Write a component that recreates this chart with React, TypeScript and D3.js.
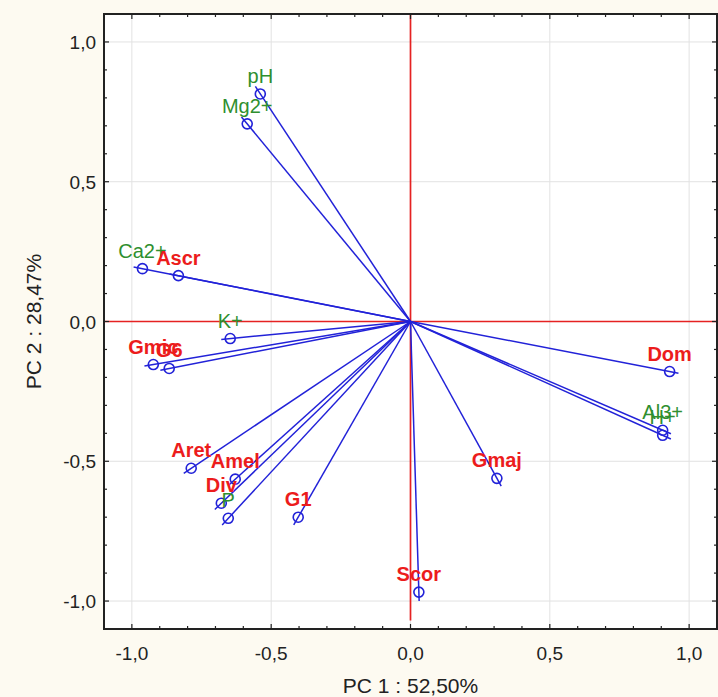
import React, { useEffect, useRef } from 'react';
import * as d3 from 'd3';

// PCA loadings
const variables = ['pH', 'Mg2+', 'Ca2+', 'Ascr', 'K+', 'Gmic', 'G6', 'Aret', 'Amel', 'Div', 'P', 'G1', 'Gmaj', 'Scor', 'Dom', 'Al3+', 'H+'];
const pc1 = [-0.539, -0.586, -0.962, -0.833, -0.647, -0.923, -0.866, -0.787, -0.629, -0.679, -0.654, -0.403, 0.31, 0.03, 0.93, 0.905, 0.905];
const pc2 = [0.814, 0.707, 0.189, 0.164, -0.061, -0.154, -0.168, -0.525, -0.564, -0.65, -0.704, -0.7, -0.561, -0.968, -0.179, -0.389, -0.407];
// 'env' = green labels, 'bio' = red labels
const groups = ['env', 'env', 'env', 'bio', 'env', 'bio', 'bio', 'bio', 'bio', 'bio', 'env', 'bio', 'bio', 'bio', 'bio', 'env', 'env'];

const majorTicks = [-1, -0.5, 0, 0.5, 1];
const xTitle = 'PC 1 : 52,50%';
const yTitle = 'PC 2 : 28,47%';

const App = () => {
  const ref = useRef<SVGSVGElement>(null);

  useEffect(() => {
    document.body.style.margin = '0';
    const svg = d3.select(ref.current);
    svg.selectAll('*').remove();

    const width = 718;
    const height = 697;
    const margin = { top: 14, right: 1, bottom: 68, left: 104 };
    const font = '"Liberation Sans", Arial, sans-serif';

    const x = d3.scaleLinear().domain([-1.1, 1.1]).range([margin.left, width - margin.right]);
    const y = d3.scaleLinear().domain([-1.1, 1.1]).range([height - margin.bottom, margin.top]);

    const fmt = (v: number) => d3.format('.1f')(v).replace('.', ',').replace('−', '-');
    const minorTicks = d3.range(-11, 12).map(i => i / 10);

    // Background
    svg.append('rect').attr('width', width).attr('height', height).attr('fill', '#fdfaf1');
    svg.append('rect')
      .attr('x', x(-1.1)).attr('y', y(1.1))
      .attr('width', x(1.1) - x(-1.1)).attr('height', y(-1.1) - y(1.1))
      .attr('fill', '#ffffff');

    // Grid
    const grid = svg.append('g').attr('stroke', '#e2e2e2').attr('stroke-width', 1);
    majorTicks.forEach(t => {
      grid.append('line').attr('x1', x(t)).attr('x2', x(t)).attr('y1', y(1.1)).attr('y2', y(-1.1));
      grid.append('line').attr('y1', y(t)).attr('y2', y(t)).attr('x1', x(-1.1)).attr('x2', x(1.1));
    });

    // Red zero lines
    svg.append('line')
      .attr('x1', x(-1.1)).attr('x2', x(1.1)).attr('y1', y(0)).attr('y2', y(0))
      .attr('stroke', '#e52222').attr('stroke-width', 1.7);
    svg.append('line')
      .attr('x1', x(0)).attr('x2', x(0)).attr('y1', y(1.1)).attr('y2', y(-1.07))
      .attr('stroke', '#e52222').attr('stroke-width', 1.7);

    // Vectors
    const ext = 9;
    const vec = svg.append('g');
    variables.forEach((name, i) => {
      const px = x(pc1[i]);
      const py = y(pc2[i]);
      const dx = px - x(0);
      const dy = py - y(0);
      const len = Math.sqrt(dx * dx + dy * dy);
      vec.append('line')
        .attr('x1', x(0)).attr('y1', y(0))
        .attr('x2', px + (dx / len) * ext).attr('y2', py + (dy / len) * ext)
        .attr('stroke', '#2222d8').attr('stroke-width', 1.5);
    });
    variables.forEach((name, i) => {
      vec.append('circle')
        .attr('cx', x(pc1[i])).attr('cy', y(pc2[i])).attr('r', 5)
        .attr('fill', 'none').attr('stroke', '#2222d8').attr('stroke-width', 1.6);
    });

    // Labels
    variables.forEach((name, i) => {
      const bio = groups[i] === 'bio';
      svg.append('text')
        .attr('x', x(pc1[i]))
        .attr('y', y(pc2[i]) - 11)
        .attr('text-anchor', 'middle')
        .attr('font-family', font)
        .attr('font-size', 20)
        .attr('font-weight', bio ? 'bold' : 'normal')
        .attr('fill', bio ? '#ec1c1c' : '#2f8f2f')
        .text(name);
    });

    // Frame
    svg.append('rect')
      .attr('x', x(-1.1)).attr('y', y(1.1))
      .attr('width', x(1.1) - x(-1.1)).attr('height', y(-1.1) - y(1.1))
      .attr('fill', 'none').attr('stroke', '#222').attr('stroke-width', 2);

    // Ticks (inward on all four sides)
    const ticks = svg.append('g').attr('stroke', '#222').attr('stroke-width', 1.2);
    minorTicks.forEach(t => {
      const major = majorTicks.some(m => Math.abs(m - t) < 1e-9);
      const len = major ? 5 : 3;
      ticks.append('line').attr('x1', x(t)).attr('x2', x(t)).attr('y1', y(-1.1)).attr('y2', y(-1.1) - len);
      ticks.append('line').attr('x1', x(t)).attr('x2', x(t)).attr('y1', y(1.1)).attr('y2', y(1.1) + len);
      ticks.append('line').attr('y1', y(t)).attr('y2', y(t)).attr('x1', x(-1.1)).attr('x2', x(-1.1) + len);
      ticks.append('line').attr('y1', y(t)).attr('y2', y(t)).attr('x1', x(1.1)).attr('x2', x(1.1) - len);
    });

    // Tick labels
    majorTicks.forEach(t => {
      svg.append('text')
        .attr('x', x(t)).attr('y', y(-1.1) + 31)
        .attr('text-anchor', 'middle')
        .attr('font-family', font).attr('font-size', 19).attr('fill', '#222')
        .text(fmt(t));
      svg.append('text')
        .attr('x', x(-1.1) - 8).attr('y', y(t) + 7)
        .attr('text-anchor', 'end')
        .attr('font-family', font).attr('font-size', 19).attr('fill', '#222')
        .text(fmt(t));
    });

    // Axis titles
    svg.append('text')
      .attr('x', x(0)).attr('y', height - 4)
      .attr('text-anchor', 'middle')
      .attr('font-family', font).attr('font-size', 21).attr('fill', '#222')
      .text(xTitle);
    svg.append('text')
      .attr('transform', `translate(41,${y(0)}) rotate(-90)`)
      .attr('text-anchor', 'middle')
      .attr('font-family', font).attr('font-size', 21).attr('fill', '#222')
      .text(yTitle);
  }, []);

  return <svg ref={ref} width={718} height={697} style={{ display: 'block' }} />;
};

export default App;
